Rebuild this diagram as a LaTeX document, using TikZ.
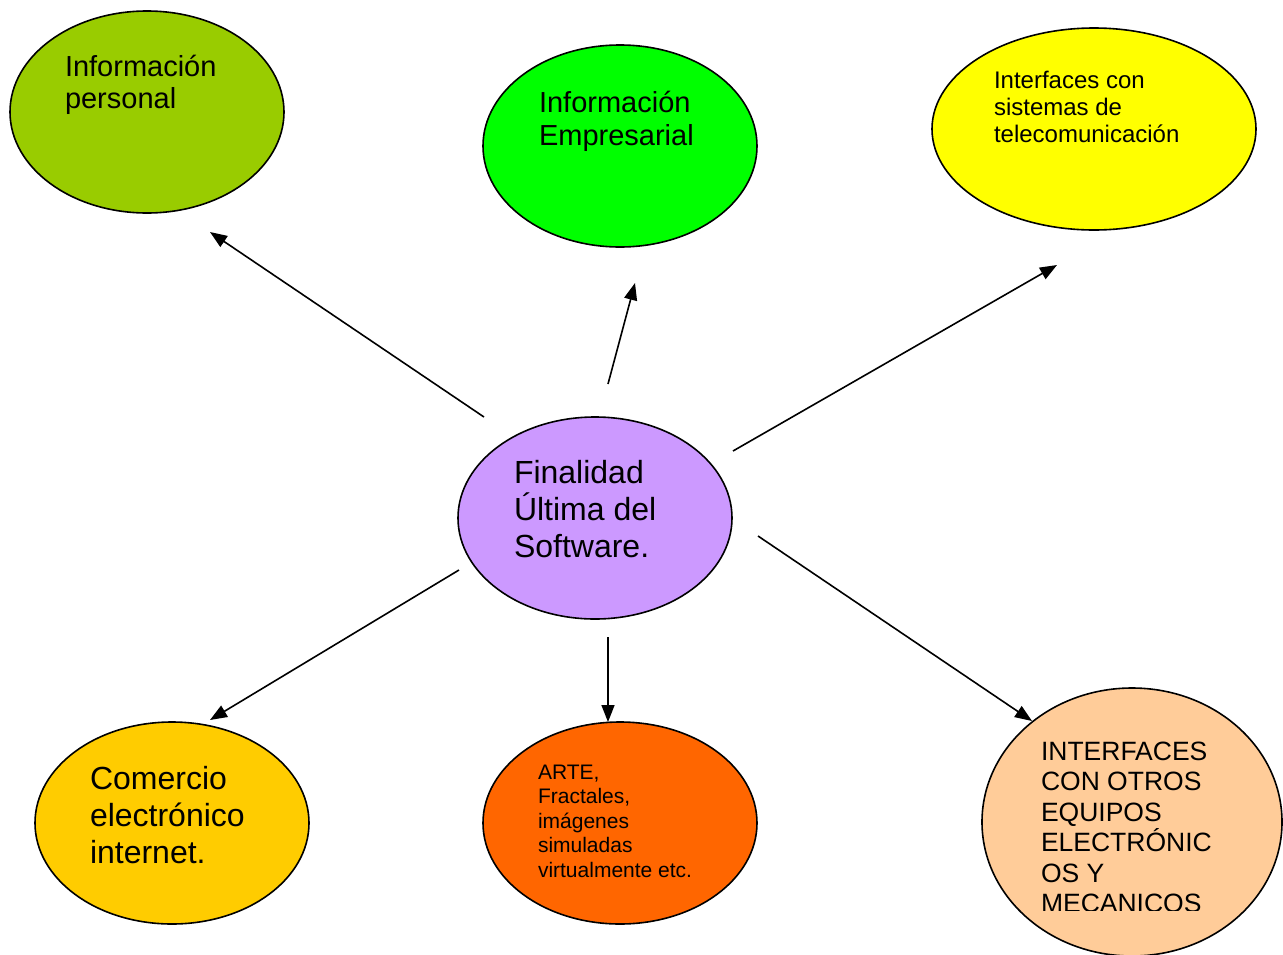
\documentclass[tikz,border=0pt]{standalone}
\usepackage{fontspec}
\setmainfont{Liberation Sans}
\usetikzlibrary{arrows.meta,shapes.geometric}
\definecolor{cPersonal}{HTML}{99CC00}
\definecolor{cEmpresa}{HTML}{00FF00}
\definecolor{cTele}{HTML}{FFFF00}
\definecolor{cCentro}{HTML}{CC99FF}
\definecolor{cComercio}{HTML}{FFCC00}
\definecolor{cArte}{HTML}{FF6600}
\definecolor{cEquipos}{HTML}{FFCC99}
\tikzset{
  bubble/.style={ellipse, draw=black, line width=1.6pt, inner sep=0pt},
  conn/.style={line width=1.6pt, -{Triangle[length=17pt,width=13pt]}},
  lbl/.style={anchor=base west, inner sep=0pt, outer sep=0pt},
}
\newcommand{\lines}[3]{\fontsize{#1}{#2}\selectfont\parbox[t]{400pt}{#3}}
\begin{document}
\begin{tikzpicture}[x=1pt,y=-1pt]
\clip (0,0) rectangle (1283,954);
\fill[white] (0,0) rectangle (1283,954);
% ellipses
\node[bubble, fill=cPersonal, minimum width=274pt, minimum height=202pt] (personal) at (147,112) {};
\node[bubble, fill=cEmpresa, minimum width=274pt, minimum height=202pt] (empresa) at (620,146) {};
\node[bubble, fill=cTele, minimum width=324pt, minimum height=202pt] (tele) at (1094,129) {};
\node[bubble, fill=cCentro, minimum width=274pt, minimum height=202pt] (centro) at (595,518) {};
\node[bubble, fill=cComercio, minimum width=274pt, minimum height=202pt] (comercio) at (172,823) {};
\node[bubble, fill=cArte, minimum width=274pt, minimum height=202pt] (arte) at (620,823) {};
\node[bubble, fill=cEquipos, minimum width=300pt, minimum height=268pt] (equipos) at (1132,822) {};
% texts
\node[lbl] (tpersonal) at (65,76) {\lines{29}{32}{Información\\personal}};
\node[lbl] (tempresa) at (539,112) {\lines{29}{33}{Información\\Empresarial}};
\node[lbl] (ttele) at (994,88) {\lines{24}{27.4}{Interfaces con\\sistemas de\\telecomunicación}};
\node[lbl] (tcentro) at (514,483) {\lines{32}{37}{Finalidad\\Última del\\Software.}};
\node[lbl] (tcomercio) at (90,789) {\lines{32}{37}{Comercio\\electrónico\\internet.}};
\node[lbl] (tarte) at (538,779) {\lines{21}{24.5}{ARTE,\\Fractales,\\imágenes\\simuladas\\virtualmente etc.}};
\begin{scope}
\clip (900,690) rectangle (1283,910);
\node[lbl] (tequipos) at (1041,760) {\lines{26.5}{30.5}{INTERFACES\\CON OTROS\\EQUIPOS\\ELECTRÓNIC\\OS Y\\MECANICOS}};
\end{scope}
% connector end points
\coordinate (s1) at (484,417); \coordinate (e1) at (210,232);
\coordinate (s2) at (608,384); \coordinate (e2) at (635,283);
\coordinate (s3) at (733,451); \coordinate (e3) at (1057,265);
\coordinate (s4) at (459,570); \coordinate (e4) at (210,720);
\coordinate (s5) at (608,637); \coordinate (e5) at (608,722);
\coordinate (s6) at (758,536); \coordinate (e6) at (1032,721);
\draw[conn] (s1) -- (e1);
\draw[conn] (s2) -- (e2);
\draw[conn] (s3) -- (e3);
\draw[conn] (s4) -- (e4);
\draw[conn] (s5) -- (e5);
\draw[conn] (s6) -- (e6);
\end{tikzpicture}
\end{document}
